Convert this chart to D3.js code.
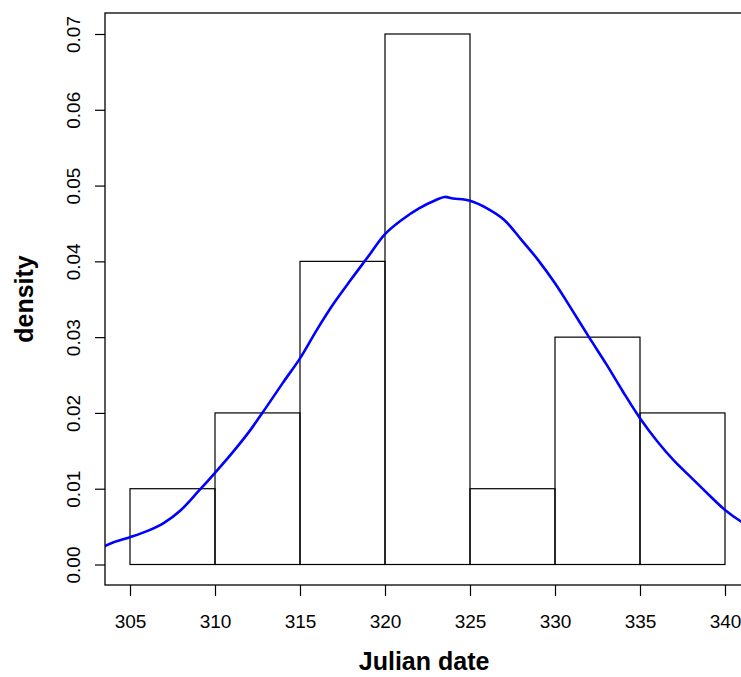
<!DOCTYPE html>
<html>
<head>
<meta charset="utf-8">
<script src="https://cdn.jsdelivr.net/npm/d3@7"></script>
<style>
  html, body { margin: 0; padding: 0; background: #fff; }
  svg { display: block; font-family: "Liberation Sans", Arial, Helvetica, sans-serif; }
</style>
</head>
<body>
<svg id="chart" width="741" height="677"></svg>
<script>
// Histogram bins (Julian date) and densities
const binStarts = [305, 310, 315, 320, 325, 330, 335];
const binWidth = 5;
const binDensity = [0.01, 0.02, 0.04, 0.07, 0.01, 0.03, 0.02];

// Kernel density curve
const kdeX = [303.5, 304, 305, 306, 307, 308, 309, 310, 311, 312, 313, 314, 315, 316, 317, 318, 319, 320, 321, 322, 323, 323.5, 324, 325, 326, 327, 328, 329, 330, 331, 332, 333, 334, 335, 336, 337, 338, 339, 340, 341, 342];
const kdeY = [0.0024, 0.0029, 0.0036, 0.0044, 0.0055, 0.0072, 0.0096, 0.0121, 0.0147, 0.0175, 0.0207, 0.024, 0.0272, 0.031, 0.0345, 0.0376, 0.0406, 0.0436, 0.0455, 0.047, 0.0481, 0.0485, 0.0483, 0.048, 0.047, 0.0455, 0.0429, 0.0402, 0.0371, 0.0336, 0.03, 0.0265, 0.0228, 0.0193, 0.0163, 0.0137, 0.0115, 0.0093, 0.0072, 0.0056, 0.0044];

const xTicks = [305, 310, 315, 320, 325, 330, 335, 340];
const yTicks = [0.00, 0.01, 0.02, 0.03, 0.04, 0.05, 0.06, 0.07];
const xLabel = "Julian date";
const yLabel = "density";

const svg = d3.select("#chart");

const x = d3.scaleLinear().domain([305, 340]).range([130, 725]);
const y = d3.scaleLinear().domain([0, 0.07]).range([564.5, 34]);

const box = { left: 105, right: 770, top: 13, bottom: 585 };

const clipId = "plotclip";
svg.append("defs").append("clipPath").attr("id", clipId)
  .append("rect").attr("x", box.left).attr("y", box.top)
  .attr("width", box.right - box.left).attr("height", box.bottom - box.top);

// histogram bars
svg.append("g").selectAll("rect").data(binStarts).join("rect")
  .attr("x", d => x(d))
  .attr("width", d => x(d + binWidth) - x(d))
  .attr("y", (d, i) => y(binDensity[i]))
  .attr("height", (d, i) => y(0) - y(binDensity[i]))
  .attr("fill", "none")
  .attr("stroke", "#000")
  .attr("stroke-width", 1.2);

// density line
const pts = kdeX.map((d, i) => [d, kdeY[i]]);
svg.append("path")
  .attr("clip-path", `url(#${clipId})`)
  .attr("d", d3.line().x(d => x(d[0])).y(d => y(d[1])).curve(d3.curveCatmullRom)(pts))
  .attr("fill", "none")
  .attr("stroke", "#0000ff")
  .attr("stroke-width", 2.6);

// plot box
svg.append("rect")
  .attr("x", box.left).attr("y", box.top)
  .attr("width", box.right - box.left).attr("height", box.bottom - box.top)
  .attr("fill", "none").attr("stroke", "#000").attr("stroke-width", 1.3);

// x axis
const xAxis = d3.axisBottom(x).tickValues(xTicks).tickSize(11).tickPadding(0).tickFormat(d3.format("d"));
const gx = svg.append("g").attr("transform", `translate(0,${box.bottom})`).call(xAxis);
gx.select(".domain").remove();
gx.selectAll(".tick line").attr("stroke", "#000").attr("stroke-width", 1.2);
gx.selectAll(".tick text").attr("font-size", 19).attr("fill", "#000")
  .attr("font-family", "Liberation Sans, Arial, sans-serif")
  .attr("dy", null).attr("y", 43);

// y axis
const yAxis = d3.axisLeft(y).tickValues(yTicks).tickSize(10).tickFormat(d3.format(".2f"));
const gy = svg.append("g").attr("transform", `translate(${box.left},0)`).call(yAxis);
gy.select(".domain").remove();
gy.selectAll(".tick line").attr("stroke", "#000").attr("stroke-width", 1.2);
gy.selectAll(".tick text").attr("font-size", 19).attr("fill", "#000")
  .attr("font-family", "Liberation Sans, Arial, sans-serif")
  .attr("x", null).attr("dy", null)
  .attr("text-anchor", "middle")
  .attr("transform", "translate(-25,0) rotate(-90)");

// axis titles
svg.append("text")
  .attr("x", x(322.3)).attr("y", 670)
  .attr("text-anchor", "middle")
  .attr("font-size", 25).attr("font-weight", "bold").attr("fill", "#000")
  .text(xLabel);

svg.append("text")
  .attr("transform", `translate(33,${(box.top + box.bottom) / 2}) rotate(-90)`)
  .attr("text-anchor", "middle")
  .attr("font-size", 25).attr("font-weight", "bold").attr("fill", "#000")
  .text(yLabel);
</script>
</body>
</html>
